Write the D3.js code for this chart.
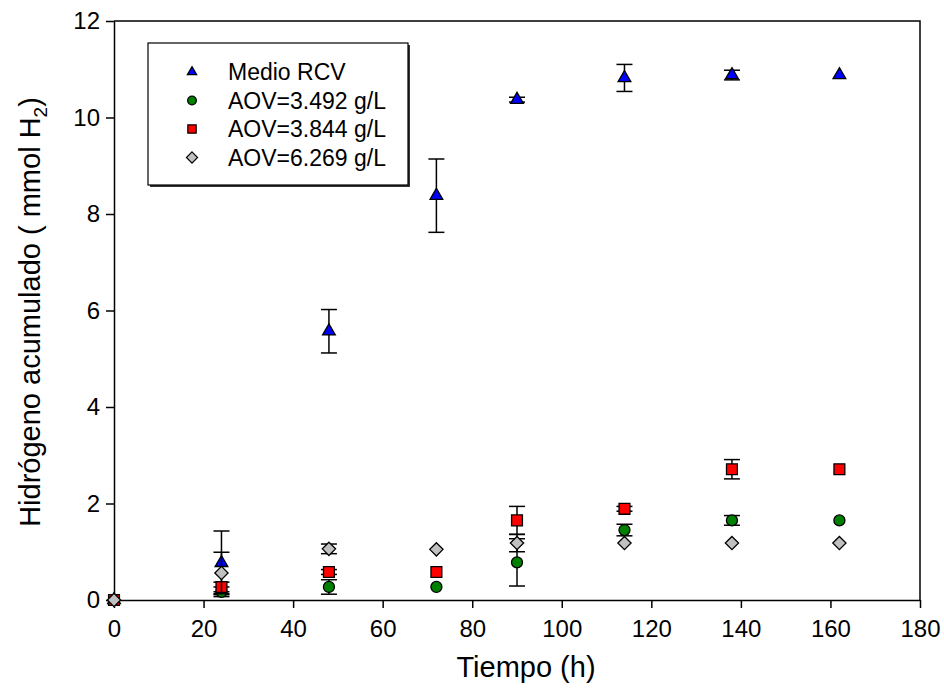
<!DOCTYPE html>
<html>
<head>
<meta charset="utf-8">
<script src="https://cdn.jsdelivr.net/npm/d3@7"></script>
<style>
  html, body { margin: 0; padding: 0; background: #fff; }
  svg { display: block; font-family: "Liberation Sans", Arial, sans-serif; }
</style>
</head>
<body>
<svg id="chart" width="944" height="696"></svg>
<script>
// ---- data ----
const time = [0, 24, 48, 72, 90, 114, 138, 162];
const rcv = [0, 0.77, 5.57, 8.38, 10.37, 10.82, 10.88, 10.88];
const rcvErr = [0, 0.66, 0.45, 0.76, 0.05, 0.28, 0.10, 0];
const aov1 = [0, 0.17, 0.27, 0.27, 0.78, 1.45, 1.65, 1.65];
const aov1Err = [0, 0.10, 0.15, 0, 0.49, 0.12, 0.10, 0];
const aov2 = [0, 0.27, 0.58, 0.58, 1.65, 1.89, 2.71, 2.71];
const aov2Err = [0, 0.10, 0.05, 0, 0.29, 0.05, 0.20, 0];
const aov3 = [0, 0.56, 1.06, 1.05, 1.18, 1.18, 1.18, 1.18];
const aov3Err = [0, 0.43, 0.10, 0, 0.18, 0, 0, 0];
const seriesNames = ["Medio RCV", "AOV=3.492 g/L", "AOV=3.844 g/L", "AOV=6.269 g/L"];
const xTicks = [0, 20, 40, 60, 80, 100, 120, 140, 160, 180];
const yTicks = [0, 2, 4, 6, 8, 10, 12];

// square rotated 45° (equal-diagonal diamond)
const symbolRhombus = {
  draw(ctx, size) {
    const h = Math.sqrt(size / 2);
    ctx.moveTo(0, -h); ctx.lineTo(h, 0); ctx.lineTo(0, h); ctx.lineTo(-h, 0); ctx.closePath();
  }
};

const series = [
  { name: seriesNames[0], values: rcv, errs: rcvErr, shape: d3.symbolTriangle, fill: "#0000ff", size: 70, lsize: 38 },
  { name: seriesNames[1], values: aov1, errs: aov1Err, shape: d3.symbolCircle, fill: "#008000", size: 95, lsize: 60 },
  { name: seriesNames[2], values: aov2, errs: aov2Err, shape: d3.symbolSquare, fill: "#ff0000", size: 118, lsize: 70 },
  { name: seriesNames[3], values: aov3, errs: aov3Err, shape: symbolRhombus, fill: "#c0c0c0", size: 88, lsize: 62 }
];

const svg = d3.select("#chart");
const mLeft = 114, mRight = 920, mTop = 21, mBottom = 600;
const x = d3.scaleLinear().domain([0, 180]).range([mLeft, mRight]);
const y = d3.scaleLinear().domain([0, 12]).range([mBottom, mTop]);

// frame (top + right)
svg.append("path")
  .attr("d", `M${mLeft},${mTop}H${mRight}V${mBottom}`)
  .attr("fill", "none").attr("stroke", "#000").attr("stroke-width", 1.5);

// axes
const xAxis = svg.append("g").attr("transform", `translate(0,${mBottom})`)
  .call(d3.axisBottom(x).tickValues(xTicks).tickSize(8).tickPadding(12).tickSizeOuter(0));
const yAxis = svg.append("g").attr("transform", `translate(${mLeft},0)`)
  .call(d3.axisLeft(y).tickValues(yTicks).tickSize(8).tickPadding(6).tickSizeOuter(0));
[xAxis, yAxis].forEach(g => {
  g.attr("font-family", null);
  g.select(".domain").attr("stroke-width", 1.5);
  g.selectAll(".tick line").attr("stroke-width", 1.5);
  g.selectAll(".tick text").attr("font-size", 24).attr("fill", "#000");
});

// axis titles
svg.append("text").attr("x", 526).attr("y", 677)
  .attr("text-anchor", "middle").attr("font-size", 29).text("Tiempo (h)");
const yt = svg.append("text").attr("transform", `translate(40,312) rotate(-90)`)
  .attr("text-anchor", "middle").attr("font-size", 29);
yt.append("tspan").text("Hidrógeno acumulado ( mmol H");
yt.append("tspan").attr("font-size", 19).attr("dy", 7).text("2");
yt.append("tspan").attr("dy", -7).text(")");

// data marks
const capW = 8;
series.forEach(s => {
  const g = svg.append("g");
  const pts = time.map((t, i) => ({ t, v: s.values[i], e: s.errs[i] }));
  const eb = g.selectAll("g.err").data(pts.filter(d => d.e > 0)).join("g")
    .attr("stroke", "#000").attr("stroke-width", 1.5);
  eb.append("line").attr("x1", d => x(d.t)).attr("x2", d => x(d.t))
    .attr("y1", d => y(d.v + d.e)).attr("y2", d => y(d.v - d.e));
  eb.append("line").attr("x1", d => x(d.t) - capW).attr("x2", d => x(d.t) + capW)
    .attr("y1", d => y(d.v + d.e)).attr("y2", d => y(d.v + d.e));
  eb.append("line").attr("x1", d => x(d.t) - capW).attr("x2", d => x(d.t) + capW)
    .attr("y1", d => y(d.v - d.e)).attr("y2", d => y(d.v - d.e));
  g.selectAll("path.pt").data(pts).join("path")
    .attr("d", d3.symbol().type(s.shape).size(s.size))
    .attr("transform", d => `translate(${x(d.t)},${y(d.v)})`)
    .attr("fill", s.fill).attr("stroke", "#000").attr("stroke-width", 1.3);
});

// legend
const lg = svg.append("g");
lg.append("rect").attr("x", 150).attr("y", 45).attr("width", 260).attr("height", 142).attr("fill", "#333");
lg.append("rect").attr("x", 148).attr("y", 43).attr("width", 260).attr("height", 142)
  .attr("fill", "#fff").attr("stroke", "#000").attr("stroke-width", 1.2);
series.forEach((s, i) => {
  const yy = 72 + i * 28.5;
  lg.append("path").attr("d", d3.symbol().type(s.shape).size(s.lsize))
    .attr("transform", `translate(192,${yy})`)
    .attr("fill", s.fill).attr("stroke", "#000").attr("stroke-width", 1.2);
  lg.append("text").attr("x", 228).attr("y", yy + 8).attr("font-size", 23).text(s.name);
});
</script>
</body>
</html>
